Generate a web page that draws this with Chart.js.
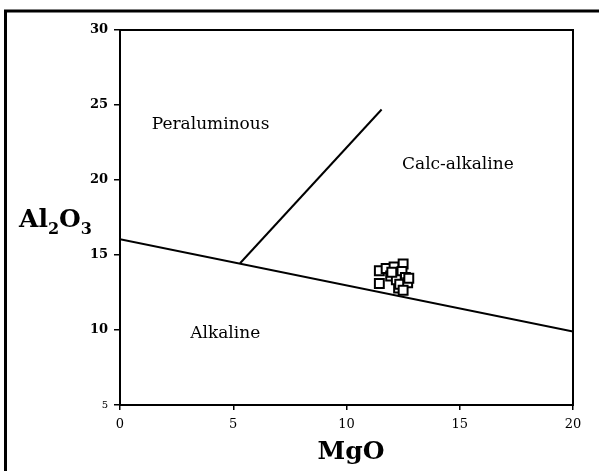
<!DOCTYPE html>
<html lang="en">
<head>
    <meta charset="UTF-8">
    <title>Al2O3 vs MgO</title>
    <script src="https://cdn.jsdelivr.net/npm/chart.js"></script>
    <style>
        html, body { margin: 0; padding: 0; background: #fff; }
        .chart-container { width: 599px; height: 471px; position: relative; }
    </style>
</head>
<body>
    <div class="chart-container">
        <canvas id="discChart"></canvas>
    </div>

    <script>
        // Sample points (MgO, Al2O3)
        const mgo   = [11.45, 11.45, 11.75, 11.95, 12.1, 12.5, 12.45, 12.6, 12.3, 12.2, 12.35, 12.7, 12.75, 12.0, 12.5];
        const al2o3 = [13.95, 13.1, 14.1, 13.6, 14.2, 14.4, 13.9, 13.5, 12.8, 13.35, 13.05, 13.15, 13.45, 13.85, 12.65];

        // Field boundaries
        const baseX = [0, 20];
        const baseY = [16.05, 9.9];
        const splitX = [5.3, 11.55];
        const splitY = [14.45, 24.7];

        const xTicks = [0, 5, 10, 15, 20];
        const yTicks = [5, 10, 15, 20, 25, 30];

        const fieldLabels = ['Peraluminous', 'Calc-alkaline', 'Alkaline'];
        const fieldX = [1.4, 12.45, 3.1];
        const fieldY = [23.7, 21.0, 9.75];

        const toPts = (xs, ys) => xs.map((x, i) => ({ x: x, y: ys[i] }));

        const serif = '"DejaVu Serif", "Liberation Serif", serif';

        const decorPlugin = {
            id: 'decor',
            afterDraw(chart) {
                const ctx = chart.ctx;
                const a = chart.chartArea;
                const sx = chart.scales.x, sy = chart.scales.y;
                ctx.save();
                // plot box
                ctx.strokeStyle = '#000';
                ctx.lineWidth = 2;
                ctx.strokeRect(a.left, a.top, a.right - a.left, a.bottom - a.top);
                // outer frame
                ctx.lineWidth = 3;
                ctx.beginPath();
                ctx.moveTo(5.5, 471);
                ctx.lineTo(5.5, 11);
                ctx.lineTo(599, 11);
                ctx.stroke();

                // field names
                ctx.fillStyle = '#000';
                ctx.font = '17px ' + serif;
                ctx.textBaseline = 'middle';
                ctx.textAlign = 'left';
                fieldLabels.forEach((t, i) => {
                    ctx.fillText(t, sx.getPixelForValue(fieldX[i]), sy.getPixelForValue(fieldY[i]));
                });

                // axis titles
                ctx.textBaseline = 'alphabetic';
                ctx.textAlign = 'center';
                ctx.font = 'bold 25px ' + serif;
                ctx.fillText('MgO', 351, 459);

                ctx.textAlign = 'left';
                let x = 19;
                const parts = [['Al', false], ['2', true], ['O', false], ['3', true]];
                parts.forEach(p => {
                    ctx.font = p[1] ? 'bold 16px ' + serif : 'bold 25px ' + serif;
                    ctx.fillText(p[0], x, p[1] ? 234 : 227);
                    x += ctx.measureText(p[0]).width;
                });
                ctx.restore();
            }
        };

        const discChart = new Chart(document.getElementById('discChart').getContext('2d'), {
            type: 'scatter',
            data: {
                datasets: [
                    { data: toPts(baseX, baseY), showLine: true, borderColor: '#000', borderWidth: 2, pointRadius: 0 },
                    { data: toPts(splitX, splitY), showLine: true, borderColor: '#000', borderWidth: 2, pointRadius: 0 },
                    { data: toPts(mgo, al2o3), pointStyle: 'rect', pointRadius: 6.3, borderColor: '#000', borderWidth: 2, backgroundColor: '#fff' }
                ]
            },
            options: {
                responsive: true,
                maintainAspectRatio: false,
                animation: false,
                layout: { padding: { left: 0, top: 30, right: 26, bottom: 0 } },
                plugins: { legend: { display: false }, tooltip: { enabled: false } },
                scales: {
                    x: {
                        type: 'linear', min: 0, max: 20,
                        afterFit: s => { s.height = 66; },
                        afterBuildTicks: s => { s.ticks = xTicks.map(v => ({ value: v })); },
                        grid: { drawOnChartArea: false, drawTicks: true, tickLength: 5, color: '#000', lineWidth: 1.5 },
                        border: { display: true, color: '#000', width: 2 },
                        ticks: { color: '#000', padding: 7, maxRotation: 0, font: { family: serif, size: 13 } }
                    },
                    y: {
                        type: 'linear', min: 5, max: 30,
                        afterFit: s => { s.width = 120; },
                        afterBuildTicks: s => { s.ticks = yTicks.map(v => ({ value: v })); },
                        grid: { drawOnChartArea: false, drawTicks: true, tickLength: 6, color: '#000', lineWidth: 1.5 },
                        border: { display: true, color: '#000', width: 2 },
                        ticks: {
                            color: '#000', padding: 6,
                            font: c => (c.tick && c.tick.value === 5)
                                ? { family: serif, size: 10 }
                                : { family: serif, size: 13, weight: 'bold' }
                        }
                    }
                }
            },
            plugins: [decorPlugin]
        });
    </script>
</body>
</html>
